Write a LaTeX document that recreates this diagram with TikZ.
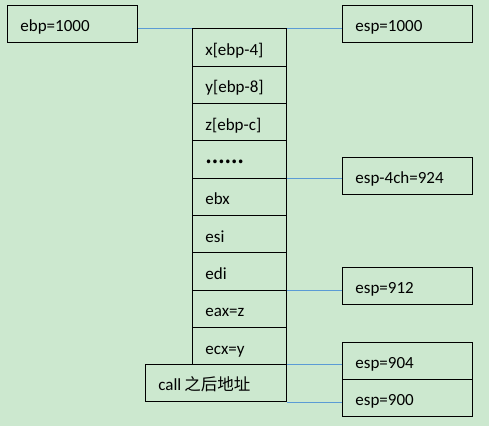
\documentclass[tikz,border=0pt]{standalone}
\usepackage{fontspec}
\setmainfont{Carlito}
\newfontfamily\cjk{Noto Sans CJK SC}
\definecolor{bgc}{RGB}{204,232,207}
\definecolor{lnc}{RGB}{91,155,213}
\begin{document}
\begin{tikzpicture}[x=1pt,y=-1pt,
  box/.style={draw=black, line width=0.8pt, anchor=north west, inner xsep=13pt, inner ysep=0pt,
    align=left, font=\fontsize{17}{20}\selectfont, text height=16pt, text depth=0pt},
  wide/.style={box, text width=104pt, minimum height=37pt},
  cell/.style={box, text width=68pt, minimum height=37.33pt},
  conn/.style={draw=lnc, line width=0.6pt}]
\fill[bgc] (0,0) rectangle (489,426);
\useasboundingbox (0,0) rectangle (489,426);
\node[wide] (ebp) at (7,5) {ebp=1000};
\node[wide] (esp1000) at (342,5) {esp=1000};
\node[wide] (esp924) at (342,157) {esp-4ch=924};
\node[wide] (esp912) at (342,267) {esp=912};
\node[wide] (esp904) at (342,342) {esp=904};
\node[wide] (esp900) at (342,379) {esp=900};
\node[cell] (r1) at (192,28.33) {x[ebp-4]};
\node[cell] (r2) at (192,65.67) {y[ebp-8]};
\node[cell] (r3) at (192,103) {z[ebp-c]};
\node[cell] (r4) at (192,140.33) {\raisebox{4pt}{\cjk\bfseries ……}};
\node[cell] (r5) at (192,177.67) {ebx};
\node[cell] (r6) at (192,215) {esi};
\node[cell] (r7) at (192,252.33) {edi};
\node[cell] (r8) at (192,289.67) {eax=z};
\node[cell] (r9) at (192,327) {ecx=y};
\node[box, text width=115pt, minimum height=37pt] (call) at (145,364) {call\hspace{3pt}{\cjk\fontsize{16.5}{20}\selectfont 之后地址}};
\draw[conn] (ebp.east |- r1.north west) -- (r1.north west);
\draw[conn] (r1.north east) -- (r1.north east -| esp1000.west);
\draw[conn] (r4.south east) -- (r4.south east -| esp924.west);
\draw[conn] (r7.south east) -- (r7.south east -| esp912.west);
\draw[conn] (call.north east) -- (call.north east -| esp904.west);
\draw[conn] (call.south east) -- (call.south east -| esp900.west);
\end{tikzpicture}
\end{document}
